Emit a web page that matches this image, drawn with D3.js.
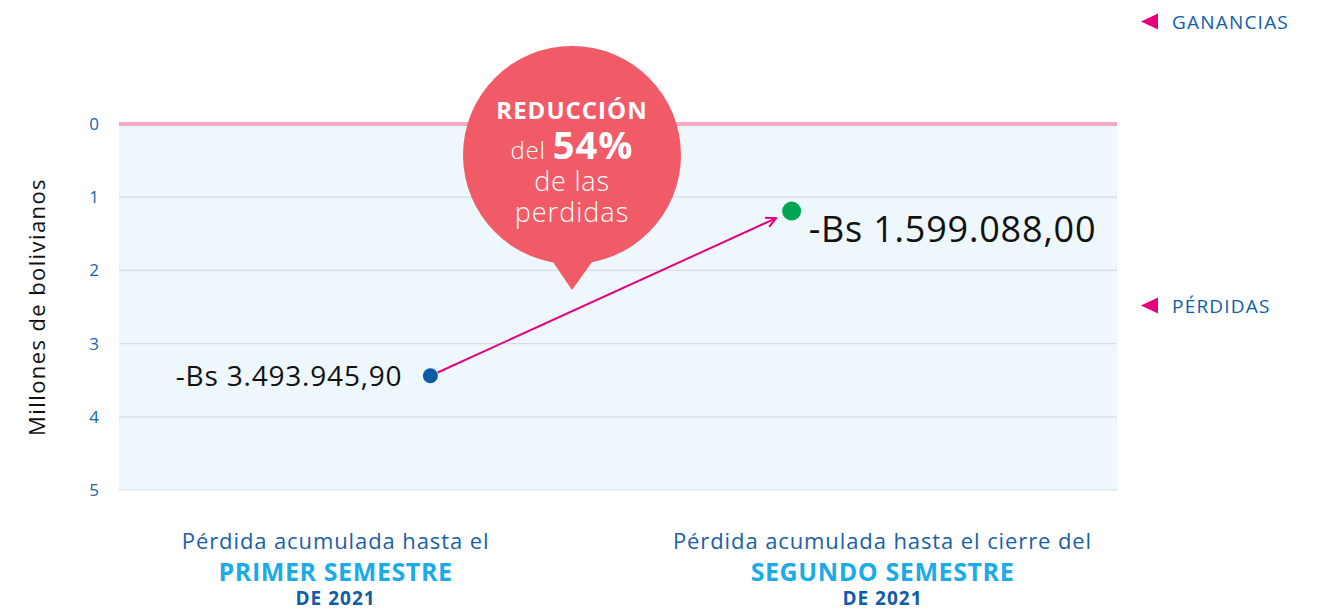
<!DOCTYPE html>
<html>
<head>
<meta charset="utf-8">
<script src="https://cdn.jsdelivr.net/npm/d3@7"></script>
<style>
  body { margin: 0; background: #fff; }
  svg { font-family: "Open Sans", Lato, sans-serif; }
</style>
</head>
<body>
<div id="chart"></div>
<script>
// data
const yTicks = [0, 1, 2, 3, 4, 5];
const pointLabels = ["-Bs 3.493.945,90", "-Bs 1.599.088,00"];
const pointPos = [0.312, 0.674];      // x position along the plot (0..1)
const pointVals = [3.44, 1.19];       // where the dots sit on the y axis (millions)
const pointColors = ["#0b5aa6", "#00a651"];
const catPos = [0.217, 0.765];
const catLine1 = ["Pérdida acumulada hasta el", "Pérdida acumulada hasta el cierre del"];
const catLine2 = ["PRIMER SEMESTRE", "SEGUNDO SEMESTRE"];
const catLine3 = ["DE 2021", "DE 2021"];
const legendItems = ["GANANCIAS", "PÉRDIDAS"];
const legendVals = [-1.4, 2.48];

const width = 1328, height = 611;
const svg = d3.select("#chart").append("svg")
    .attr("width", width)
    .attr("height", height);

const x = d3.scaleLinear().domain([0, 1]).range([119, 1117]);
const y = d3.scaleLinear().domain([0, 5]).range([124, 490]);

// plot background
svg.append("rect")
    .attr("x", x(0)).attr("y", y(0))
    .attr("width", x(1) - x(0)).attr("height", y(5) - y(0))
    .attr("fill", "#edf7fc");

// gridlines
svg.selectAll("line.grid")
    .data(yTicks.filter(d => d > 0))
    .enter().append("line")
    .attr("class", "grid")
    .attr("x1", x(0)).attr("x2", x(1))
    .attr("y1", d => y(d)).attr("y2", d => y(d))
    .attr("stroke", "#d6dde2")
    .attr("stroke-width", 1.2);

// zero line
svg.append("line")
    .attr("x1", x(0)).attr("x2", x(1))
    .attr("y1", y(0)).attr("y2", y(0))
    .attr("stroke", "#f4a9c9")
    .attr("stroke-width", 4);

// y tick labels
const yAxis = d3.axisLeft(y).tickValues(yTicks).tickFormat(d3.format("d")).tickSize(0).tickPadding(0);
const ga = svg.append("g")
    .attr("transform", `translate(${99},0)`)
    .call(yAxis);
ga.select(".domain").remove();
ga.selectAll("text")
    .attr("fill", "#1763ad")
    .style("font-size", "17px")
    .style("font-family", "'Open Sans', sans-serif");

// y axis title
svg.append("text")
    .attr("transform", `translate(45,${307}) rotate(-90)`)
    .attr("text-anchor", "middle")
    .style("font-size", "22px")
    .style("letter-spacing", "1.4px")
    .attr("fill", "#111")
    .text("Millones de bolivianos");

// legend
legendItems.forEach((t, i) => {
    const ly = y(legendVals[i]);
    svg.append("path")
        .attr("d", `M1141,${ly} L1158,${ly - 8} L1158,${ly + 8} Z`)
        .attr("fill", "#e6007e");
    svg.append("text")
        .attr("x", 1172).attr("y", ly + 7)
        .attr("fill", "#0f5ca8")
        .style("font-size", "19px")
        .style("letter-spacing", "1.2px")
        .text(t);
});

// speech bubble
const bx = 572, by = 155, br = 109;
svg.append("path")
    .attr("d", `M553,262 L572,290 L592,262 Z`)
    .attr("fill", "#f15b67");
svg.append("circle")
    .attr("cx", bx).attr("cy", by).attr("r", br)
    .attr("fill", "#f15b67");
const bt = svg.append("g").attr("fill", "#fff").attr("text-anchor", "middle");
bt.append("text").attr("x", bx).attr("y", 119)
    .style("font-size", "24px").style("font-weight", "bold").style("letter-spacing", "1px")
    .text("REDUCCIÓN");
const t2 = bt.append("text").attr("x", bx).attr("y", 159);
t2.append("tspan").style("font-size", "24px").style("font-weight", "300").style("letter-spacing", "0.8px").text("del ");
t2.append("tspan").style("font-size", "38px").style("font-weight", "bold").style("letter-spacing", "1px").text("54%");
bt.append("text").attr("x", bx).attr("y", 191)
    .style("font-size", "27px").style("font-weight", "300").style("letter-spacing", "0.8px")
    .text("de las");
bt.append("text").attr("x", bx).attr("y", 222)
    .style("font-size", "27px").style("font-weight", "300").style("letter-spacing", "1px")
    .text("perdidas");

// arrow between points
const defs = svg.append("defs");
defs.append("marker")
    .attr("id", "arrow")
    .attr("viewBox", "0 0 12 12")
    .attr("refX", 11).attr("refY", 6)
    .attr("markerWidth", 12).attr("markerHeight", 12)
    .attr("markerUnits", "userSpaceOnUse")
    .attr("orient", "auto")
    .append("path")
    .attr("d", "M1,1 L11,6 L1,11")
    .attr("fill", "none")
    .attr("stroke", "#e6007e")
    .attr("stroke-width", 2);

const x0 = x(pointPos[0]), y0 = y(pointVals[0]);
const x1 = x(pointPos[1]), y1 = y(pointVals[1]);
const ang = Math.atan2(y1 - y0, x1 - x0);
svg.append("line")
    .attr("x1", x0 + 8 * Math.cos(ang)).attr("y1", y0 + 8 * Math.sin(ang))
    .attr("x2", x1 - 17 * Math.cos(ang)).attr("y2", y1 - 17 * Math.sin(ang))
    .attr("stroke", "#e6007e")
    .attr("stroke-width", 2)
    .attr("marker-end", "url(#arrow)");

// points
svg.selectAll("circle.pt")
    .data(pointVals)
    .enter().append("circle")
    .attr("class", "pt")
    .attr("cx", (d, i) => x(pointPos[i]))
    .attr("cy", d => y(d))
    .attr("r", (d, i) => i === 0 ? 7.5 : 9.5)
    .attr("fill", (d, i) => pointColors[i]);

// value labels
svg.append("text")
    .attr("x", x(pointPos[0]) - 28).attr("y", y(pointVals[0]) + 10)
    .attr("text-anchor", "end")
    .style("font-size", "28px")
    .style("letter-spacing", "0.8px")
    .attr("fill", "#111")
    .text(pointLabels[0]);
svg.append("text")
    .attr("x", x(pointPos[1]) + 17).attr("y", y(pointVals[1]) + 31)
    .style("font-size", "36px")
    .style("letter-spacing", "0.8px")
    .attr("fill", "#111")
    .text(pointLabels[1]);

// category labels
const cats = svg.selectAll("g.cat")
    .data(catPos)
    .enter().append("g")
    .attr("class", "cat")
    .attr("text-anchor", "middle")
    .attr("transform", d => `translate(${x(d)},0)`);
cats.append("text").attr("y", 549)
    .style("font-size", "22px").style("letter-spacing", "0.9px").attr("fill", "#1a5fa8")
    .text((d, i) => catLine1[i]);
cats.append("text").attr("y", 581)
    .style("font-size", "25px").style("font-weight", "bold").style("letter-spacing", "0.6px").attr("fill", "#1aabe8")
    .text((d, i) => catLine2[i]);
cats.append("text").attr("y", 605)
    .style("font-size", "19px").style("font-weight", "bold").style("letter-spacing", "1px").attr("fill", "#0f5ca8")
    .text((d, i) => catLine3[i]);
</script>
</body>
</html>
